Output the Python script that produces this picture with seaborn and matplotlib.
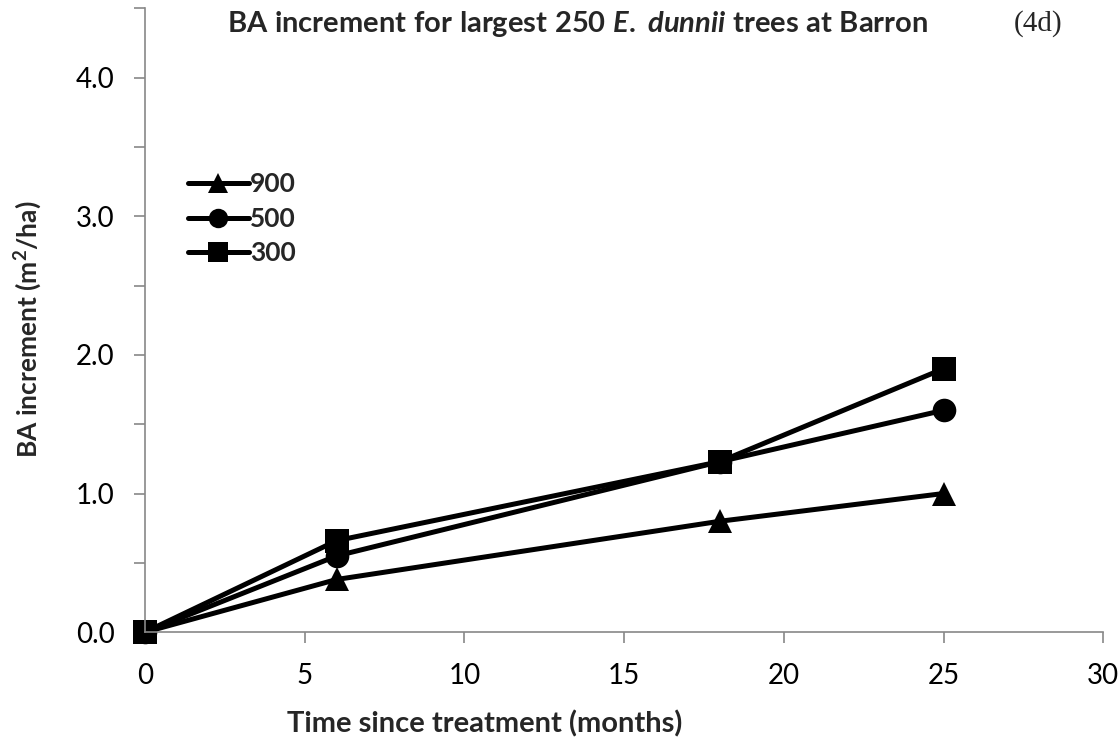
import matplotlib.pyplot as plt
import pandas as pd
import seaborn as sns
from matplotlib.ticker import MultipleLocator

# values
months = [0, 6, 18, 25]
ba_900 = [0.0, 0.38, 0.80, 1.00]
ba_500 = [0.0, 0.55, 1.23, 1.60]
ba_300 = [0.0, 0.66, 1.23, 1.90]
densities = ['900', '500', '300']
marker_map = {'900': '^', '500': 'o', '300': 's'}

df = pd.DataFrame({
    'month': months * 3,
    'ba': ba_900 + ba_500 + ba_300,
    'density': [d for d in densities for _ in months],
})

sns.set_style('white')
plt.rcParams['font.family'] = ['Lato', 'DejaVu Sans']
plt.rcParams['mathtext.fontset'] = 'custom'
plt.rcParams['mathtext.it'] = 'Lato:italic:bold'
plt.rcParams['mathtext.bf'] = 'Lato:bold'
plt.rcParams['mathtext.rm'] = 'Lato:bold'

fig = plt.figure(figsize=(11.2, 7.49), dpi=100)
ax = fig.add_axes([0.1295, 0.156, 0.8555, 0.833])

sns.lineplot(data=df, x='month', y='ba', hue='density', style='density',
             hue_order=densities, style_order=densities,
             markers=marker_map, dashes=False, palette=['black'] * 3,
             linewidth=3.6, markersize=17, markeredgecolor='black',
             markeredgewidth=0, clip_on=False, ax=ax)

ax.set_xlim(0, 30)
ax.set_ylim(0, 4.5)
ax.xaxis.set_major_locator(MultipleLocator(5))
ax.yaxis.set_major_locator(MultipleLocator(1))
ax.yaxis.set_minor_locator(MultipleLocator(0.5))
ax.yaxis.set_major_formatter(lambda v, pos: f'{v:.1f}')
ax.tick_params(axis='both', which='both', direction='out', length=8, width=1.2,
               color='#888888', labelsize=20, labelcolor='black')
ax.tick_params(axis='x', pad=14)
ax.tick_params(axis='y', pad=14)
ax.tick_params(axis='y', which='both', left=True)
ax.tick_params(axis='x', which='major', bottom=True)
sns.despine(ax=ax)
for s in ['left', 'bottom']:
    ax.spines[s].set_color('#888888')
    ax.spines[s].set_linewidth(1.2)
ax.set_xlabel('')
ax.set_ylabel('')

# legend without title, matching the excel look
leg = ax.get_legend()
handles = leg.legend_handles
labels = [t.get_text() for t in leg.get_texts()]
leg.remove()
for h in handles:
    h.set_color('black')
    h.set_linewidth(3.6)
    h.set_markersize(14)
    h.set_markeredgewidth(0)
ax.legend(handles, labels, loc='upper left', bbox_to_anchor=(0.02, 0.775),
          frameon=False, handlelength=2.3, handletextpad=0.05, labelspacing=0.4,
          prop={'weight': 'bold', 'size': 19})

title = (r'$\mathbf{BA\ increment\ for\ largest\ 250\ }\mathit{E.\ dunnii}'
         r'\mathbf{\ trees\ at\ Barron}$')
fig.text(0.516, 0.968, title, ha='center', va='center', fontsize=21)
fig.text(0.927, 0.968, '(4d)', ha='center', va='center', fontsize=21,
         family='Liberation Serif')
fig.text(0.025, 0.561, 'BA increment (m$^2$/ha)', rotation=90, ha='center', va='center',
         fontsize=19, fontweight='bold')
fig.text(0.433, 0.034, 'Time since treatment (months)', ha='center', va='center',
         fontsize=21, fontweight='bold')

fig.savefig('out.png', dpi=100)
